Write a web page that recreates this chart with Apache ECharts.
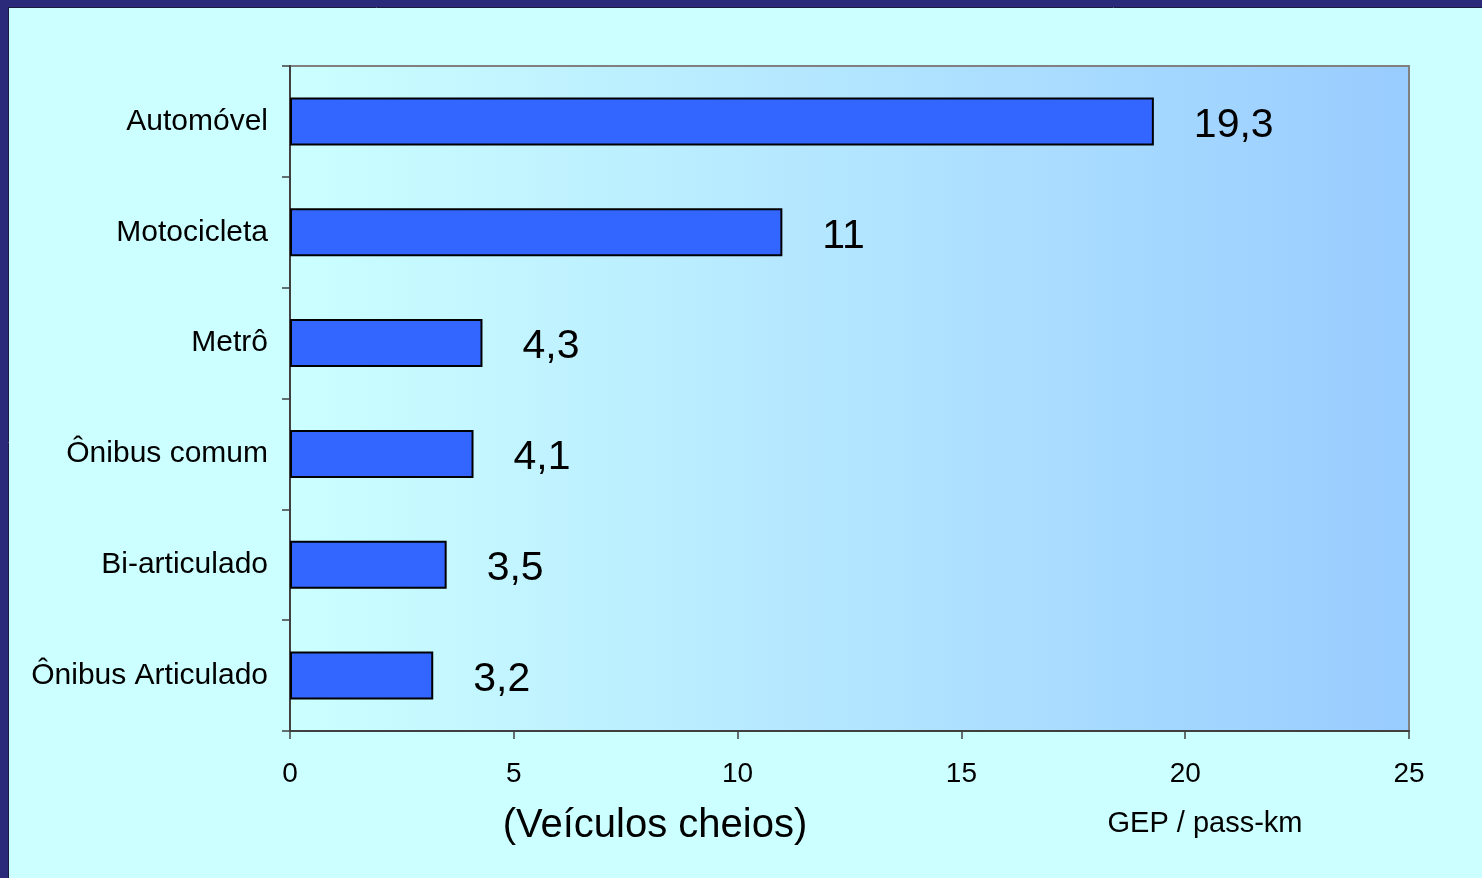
<!DOCTYPE html>
<html>
<head>
<meta charset="utf-8">
<script src="https://cdn.jsdelivr.net/npm/echarts@6/dist/echarts.min.js"></script>
<style>
html,body{margin:0;padding:0;background:#CCFFFF;}
#chart{width:1482px;height:878px;}
</style>
</head>
<body>
<div id="chart"></div>
<script>
const categories = ['Automóvel', 'Motocicleta', 'Metrô', 'Ônibus comum', 'Bi-articulado', 'Ônibus Articulado'];
const values = [19.3, 11, 4.3, 4.1, 3.5, 3.2];
const xTicks = [0, 5, 10, 15, 20, 25];
const xAxisTitle = '(Veículos cheios)';
const unitText = 'GEP / pass-km';

const font = '"Liberation Sans", Arial, sans-serif';
const chart = echarts.init(document.getElementById('chart'));
chart.setOption({
  backgroundColor: '#CCFFFF',
  animation: false,
  textStyle: { fontFamily: font },
  grid: {
    left: 290, right: 73, top: 66, bottom: 147,
    show: true,
    borderColor: '#808080',
    borderWidth: 2,
    backgroundColor: new echarts.graphic.LinearGradient(0, 0, 1, 0, [
      { offset: 0, color: '#CCFFFF' },
      { offset: 1, color: '#99CCFF' }
    ])
  },
  xAxis: {
    type: 'value',
    min: xTicks[0], max: xTicks[xTicks.length - 1], interval: 5,
    splitLine: { show: false },
    axisLine: { show: true, lineStyle: { color: '#404040', width: 2 } },
    axisTick: { show: true, length: 8, lineStyle: { color: '#404040', width: 1.5 } },
    axisLabel: { color: '#000', fontSize: 28, margin: 29, fontFamily: font }
  },
  yAxis: {
    type: 'category',
    data: categories,
    inverse: true,
    axisLine: { show: true, lineStyle: { color: '#404040', width: 2 } },
    axisTick: { show: true, length: 8, alignWithLabel: false, lineStyle: { color: '#404040', width: 1.5 } },
    axisLabel: { color: '#000', fontSize: 30, margin: 22, fontFamily: font }
  },
  series: [{
    type: 'bar',
    data: values,
    barWidth: 48,
    itemStyle: { color: '#3366FF', borderColor: '#000', borderWidth: 2 },
    label: {
      show: true,
      position: 'right',
      distance: 40,
      offset: [0, 4],
      color: '#000',
      fontSize: 41,
      fontFamily: font,
      formatter: p => String(p.value).replace('.', ',')
    }
  }],
  graphic: [
    { type: 'rect', shape: { x: 0, y: 0, width: 1482, height: 7 }, style: { fill: '#2B2A7A' }, z: 100 },
    { type: 'rect', shape: { x: 0, y: 0, width: 8, height: 878 }, style: { fill: '#2B2A7A' }, z: 100 },
    { type: 'line', shape: { x1: 8, y1: 7.5, x2: 1482, y2: 7.5 }, style: { stroke: '#1a1a40', lineWidth: 1 }, z: 100 },
    { type: 'line', shape: { x1: 8.5, y1: 7, x2: 8.5, y2: 878 }, style: { stroke: '#1a1a40', lineWidth: 1 }, z: 100 },
    { type: 'text', x: 655, y: 826, style: { text: xAxisTitle, fill: '#000', fontSize: 40, fontFamily: font, align: 'center', verticalAlign: 'middle' }, z: 100 },
    { type: 'text', x: 1205, y: 824, style: { text: unitText, fill: '#000', fontSize: 29, fontFamily: font, align: 'center', verticalAlign: 'middle' }, z: 100 }
  ]
});
</script>
</body>
</html>
